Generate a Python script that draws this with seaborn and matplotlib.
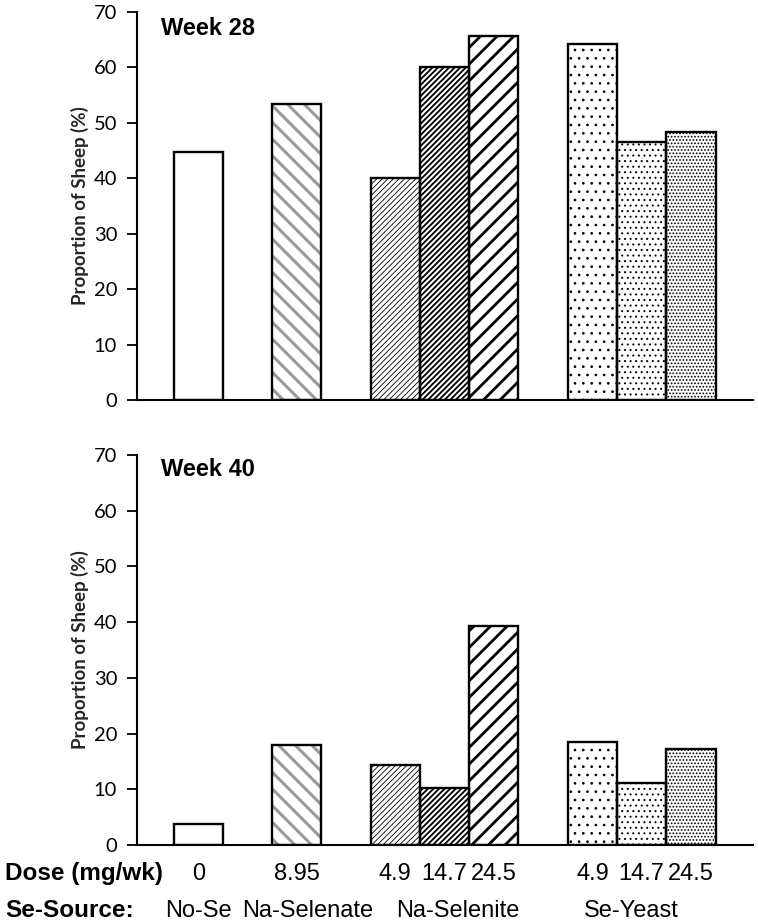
import matplotlib

matplotlib.use("Agg")

import matplotlib.pyplot as plt
import matplotlib.transforms as mtransforms
import pandas as pd
import seaborn as sns

# values
SOURCES = ["No-Se", "Na-Selenate", "Na-Selenite", "Na-Selenite", "Na-Selenite",
           "Se-Yeast", "Se-Yeast", "Se-Yeast"]
DOSES = ["0", "8.95", "4.9", "14.7", "24.5", "4.9", "14.7", "24.5"]
WEEK_28 = [44.8, 53.3, 40.0, 60.0, 65.6, 64.2, 46.5, 48.3]
WEEK_40 = [3.8, 18.0, 14.4, 10.2, 39.3, 18.5, 11.2, 17.3]
Y_TICKS = [0, 10, 20, 30, 40, 50, 60, 70]

HATCHES = ["", "\\\\", "//////", "//////", "//", "..", "...", "....."]
HATCH_COLORS = ["black", "#9a9a9a", "black", "black", "black", "black", "black", "black"]
HATCH_WIDTHS = [1.0, 2.2, 0.6, 1.3, 2.0, 0.7, 0.7, 0.8]

LABEL_FONT = ["Liberation Sans", "DejaVu Sans"]


def bar_positions(sources):
    # one empty slot between Se sources, bars of the same source touch
    positions = []
    slot = 0
    for i, src in enumerate(sources):
        if i > 0:
            slot += 2 if src != sources[i - 1] else 1
        positions.append(slot)
    return positions


POSITIONS = bar_positions(SOURCES)


def draw_panel(ax, values, title, title_y):
    df = pd.DataFrame({"pos": POSITIONS, "value": values})
    sns.barplot(data=df, x="pos", y="value", native_scale=True, width=1.0,
                color="white", errorbar=None, ax=ax)
    for patch, hatch, hc, hw in zip(ax.patches, HATCHES, HATCH_COLORS, HATCH_WIDTHS):
        patch.set_facecolor("white")
        patch.set_edgecolor(hc)
        patch.set_linewidth(0)
        patch.set_hatch(hatch)
        if hasattr(patch, "set_hatch_linewidth"):
            patch.set_hatch_linewidth(hw)

    n = len(ax.patches)
    sns.barplot(data=df, x="pos", y="value", native_scale=True, width=1.0,
                fill=False, color="black", errorbar=None, ax=ax)
    for patch in ax.patches[n:]:
        patch.set_facecolor("none")
        patch.set_edgecolor("black")
        patch.set_linewidth(1.7)

    ax.set_xlim(-1.25, 11.26)
    ax.set_ylim(0, 70)
    ax.set_yticks(Y_TICKS)
    ax.set_xticks([])
    ax.set_xlabel("")
    ax.set_ylabel("Proportion of Sheep (%)", fontsize=13.5, fontweight="bold")
    ax.yaxis.set_label_coords(-0.078, 0.5)
    ax.tick_params(axis="y", length=7, width=1.3, pad=7, labelsize=14.5, color="black")
    for side in ["top", "right"]:
        ax.spines[side].set_visible(False)
    for side in ["left", "bottom"]:
        ax.spines[side].set_linewidth(1.5)
        ax.spines[side].set_color("black")
    ax.text(0.04, title_y, title, transform=ax.transAxes, fontsize=17,
            fontweight="bold", family=LABEL_FONT, va="baseline", ha="left")


def main() -> None:
    sns.set_style("ticks")
    plt.rcParams["font.family"] = ["Lato", "DejaVu Sans"]
    plt.rcParams["text.color"] = "black"
    plt.rcParams["ytick.color"] = "black"

    fig = plt.figure(figsize=(7.58, 9.23), dpi=100)
    ax_top = fig.add_axes([0.1803, 0.5666, 0.8131, 0.4207])
    ax_bot = fig.add_axes([0.1803, 0.0845, 0.8131, 0.4225])

    draw_panel(ax_top, WEEK_28, "Week 28", 0.941)
    draw_panel(ax_bot, WEEK_40, "Week 40", 0.946)

    # dose and source rows under the lower panel
    trans = mtransforms.blended_transform_factory(ax_bot.transData, fig.transFigure)
    fig.text(0.007, 0.0466, "Dose (mg/wk)", fontsize=17.5, fontweight="bold",
             family=LABEL_FONT, va="baseline", ha="left")
    fig.text(0.007, 0.0065, "Se-Source:", fontsize=17.5, fontweight="bold",
             family=LABEL_FONT, va="baseline", ha="left")
    for pos, dose in zip(POSITIONS, DOSES):
        ax_bot.text(pos, 0.0466, dose, transform=trans, fontsize=17,
                    family=LABEL_FONT, va="baseline", ha="center", clip_on=False)

    groups = list(dict.fromkeys(SOURCES))
    group_x = {"No-Se": 0.0, "Na-Selenate": 2.23, "Na-Selenite": 5.26, "Se-Yeast": 8.8}
    for grp in groups:
        ax_bot.text(group_x[grp], 0.0065, grp, transform=trans, fontsize=17,
                    family=LABEL_FONT, va="baseline", ha="center", clip_on=False)

    fig.savefig("out.png", dpi=100)
    plt.close(fig)


if __name__ == "__main__":
    main()
